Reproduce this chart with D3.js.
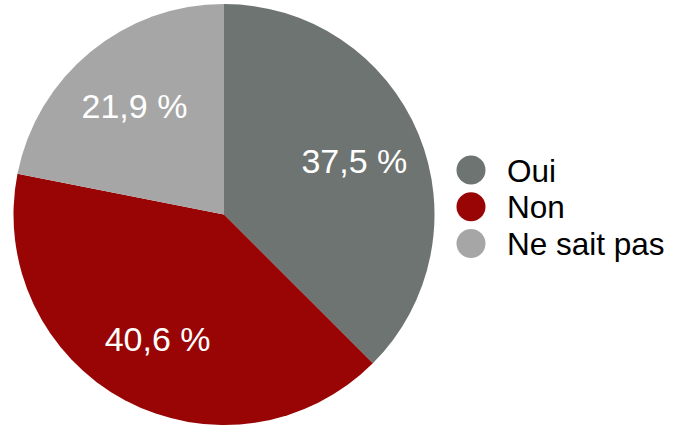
<!DOCTYPE html>
<html>
<head>
<meta charset="utf-8">
<script src="https://cdn.jsdelivr.net/npm/d3@7"></script>
<style>
  html, body { margin: 0; padding: 0; background: #fff; }
  svg { display: block; font-family: "Liberation Sans", Arial, Helvetica, sans-serif; }
</style>
</head>
<body>
<svg id="chart" width="680" height="425"></svg>
<script>
// Survey answers and their shares (percent)
const categories = ["Oui", "Non", "Ne sait pas"];
const values = [37.5, 40.6, 21.9];
const colors = ["#6e7471", "#990505", "#a6a6a6"];

const svg = d3.select("#chart");
const cx = 224, cy = 214.5, radius = 210.5;

const color = d3.scaleOrdinal().domain(categories).range(colors);
const data = categories.map((c, i) => ({ cat: c, value: values[i] }));

const pie = d3.pie().value(d => d.value).sort(null);
const arc = d3.arc().innerRadius(0).outerRadius(radius);
const labelArc = d3.arc().innerRadius(radius * 0.67).outerRadius(radius * 0.67);

const g = svg.append("g").attr("transform", `translate(${cx},${cy})`);
const arcs = pie(data);

g.selectAll("path.slice")
  .data(arcs)
  .join("path")
  .attr("class", "slice")
  .attr("d", arc)
  .attr("fill", d => color(d.data.cat));

const fmt = v => d3.format(".1f")(v).replace(".", ",") + " %";

g.selectAll("text.value")
  .data(arcs)
  .join("text")
  .attr("class", "value")
  .attr("transform", d => {
    const [x, y] = labelArc.centroid(d);
    return `translate(${x},${y + 12})`;
  })
  .attr("text-anchor", "middle")
  .attr("fill", "#fff")
  .attr("font-size", 34)
  .text(d => fmt(d.data.value));

// Legend
const legend = svg.append("g").attr("transform", "translate(471,170)");
const rowH = 36.75;
const rows = legend.selectAll("g.row")
  .data(categories)
  .join("g")
  .attr("class", "row")
  .attr("transform", (d, i) => `translate(0,${i * rowH})`);

rows.append("circle")
  .attr("r", 14.5)
  .attr("fill", d => color(d));

rows.append("text")
  .attr("x", 36)
  .attr("y", 11.5)
  .attr("font-size", 31.5)
  .attr("fill", "#000")
  .text(d => d);
</script>
</body>
</html>
